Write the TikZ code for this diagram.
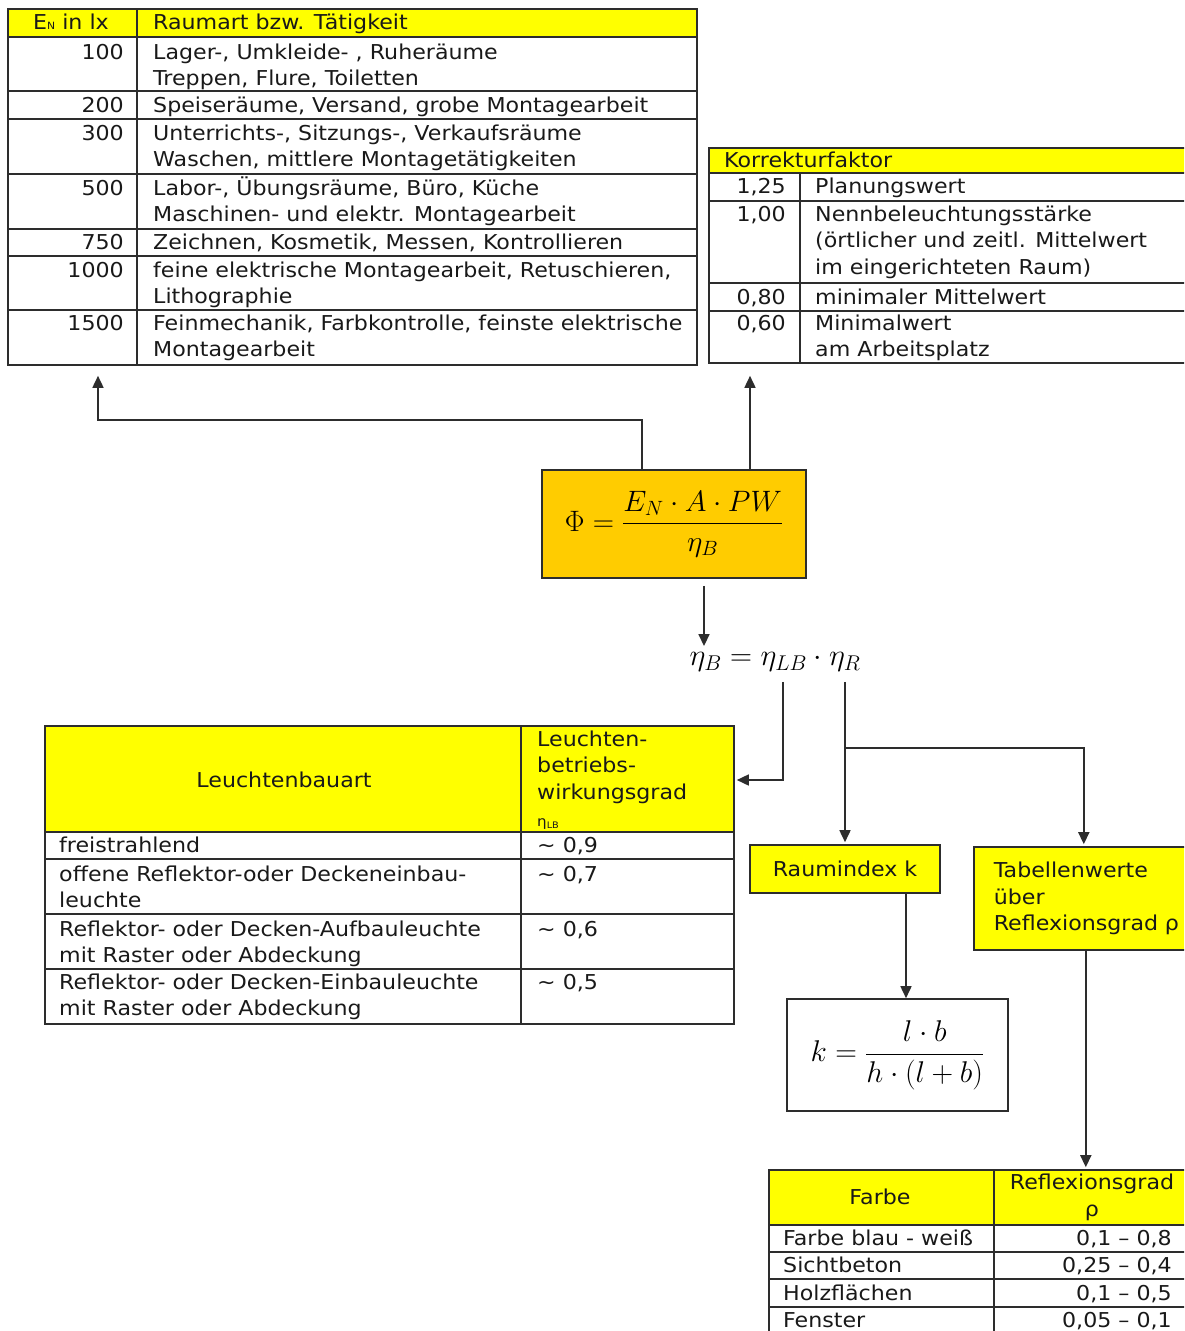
\RequirePackage{fix-cm}
\documentclass[tikz,border=0pt]{standalone}
\usepackage{fontspec}
\setmainfont{DejaVu Sans}[FakeStretch=1.08]
\usepackage{amsmath}
\usetikzlibrary{arrows.meta,positioning,calc}
\definecolor{hdryellow}{RGB}{255,255,0}
\definecolor{boxgold}  {RGB}{255,204,0}
\definecolor{linegray} {RGB}{45,45,45}
\definecolor{txtgray}  {RGB}{25,25,25}
\newcommand{\tabfont}{\fontsize{20.5}{26.6}\selectfont}
\newcommand{\mathfont}[1]{\fontsize{#1}{#1}\selectfont}
\tikzset{
  tabframe/.style={draw=linegray,line width=1.6pt,inner sep=0pt},
  rule/.style={draw=linegray,line width=1.6pt},
  hdr/.style={fill=hdryellow},
  cell/.style={anchor=base west,inner sep=0pt,font=\tabfont,
               align=left,text=txtgray},
  num/.style={cell,anchor=base east,align=right},
  ctr/.style={cell,anchor=base,align=center},
  ybox/.style={draw=linegray,fill=hdryellow,line width=1.6pt,
               font=\tabfont,text=txtgray},
  gbox/.style={draw=linegray,fill=boxgold,line width=1.6pt},
  wbox/.style={draw=linegray,fill=white,line width=1.6pt},
  arr/.style={-{Triangle[length=12pt,width=11pt]},line width=1.6pt,
              draw=linegray,shorten >=2pt},
}

\begin{document}
\begin{tikzpicture}[x=1pt,y=-1pt]
  \useasboundingbox (0,0) rectangle (1184,1331);
  \clip (0,0) rectangle (1184,1331);

  % Nennbeleuchtungsstaerken (base = last line)
  \fill[hdr] (8,9) rectangle (697,37);
  \node[tabframe,minimum width=689,minimum height=356] (tabE) at (352.5,187) {};
  \draw[rule] (137,9) -- (137,365);
  \draw[rule] (8,37) -- (697,37) (8,91) -- (697,91) (8,119) -- (697,119)
              (8,174) -- (697,174) (8,229) -- (697,229) (8,256) -- (697,256)
              (8,310) -- (697,310);
  \node[cell] (hEN)  at (33,29)  {E{\fontsize{10}{10}\selectfont N} in lx};
  \node[cell] (hRA)  at (153,29) {Raumart bzw. Tätigkeit};
  \node[num]  (e100) at (124,59)  {100};
  \node[cell] (r100) at (153,85.6)  {Lager-, Umkleide- , Ruheräume\\Treppen, Flure, Toiletten};
  \node[num]  (e200) at (124,112) {200};
  \node[cell] (r200) at (153,112) {Speiseräume, Versand, grobe Montagearbeit};
  \node[num]  (e300) at (124,140) {300};
  \node[cell] (r300) at (153,166.6) {Unterrichts-, Sitzungs-, Verkaufsräume\\Waschen, mittlere Montagetätigkeiten};
  \node[num]  (e500) at (124,195) {500};
  \node[cell] (r500) at (153,221.6) {Labor-, Übungsräume, Büro, Küche\\Maschinen- und elektr. Montagearbeit};
  \node[num]  (e750) at (124,249) {750};
  \node[cell] (r750) at (153,249) {Zeichnen, Kosmetik, Messen, Kontrollieren};
  \node[num]  (e1000) at (124,277) {1000};
  \node[cell] (r1000) at (153,303.6) {feine elektrische Montagearbeit, Retuschieren,\\Lithographie};
  \node[num]  (e1500) at (124,330) {1500};
  \node[cell] (r1500) at (153,356.6) {Feinmechanik, Farbkontrolle, feinste elektrische\\Montagearbeit};

  % Korrekturfaktor
  \fill[hdr] (709,148) rectangle (1200,173);
  \node[tabframe,minimum width=491,minimum height=215] (tabK) at (954.5,255.5) {};
  \draw[rule] (800,173) -- (800,363);
  \draw[rule] (709,173) -- (1200,173) (709,201) -- (1200,201)
              (709,283) -- (1200,283) (709,311) -- (1200,311);
  \node[cell] (hKF)  at (724,167) {Korrekturfaktor};
  \node[num]  (k125) at (786,193) {1,25};
  \node[cell] (p125) at (815,193) {Planungswert};
  \node[num]  (k100) at (786,221) {1,00};
  \node[cell] (p100) at (815,274.2) {Nennbeleuchtungsstärke\\(örtlicher und zeitl. Mittelwert\\im eingerichteten Raum)};
  \node[num]  (k080) at (786,304) {0,80};
  \node[cell] (p080) at (815,304) {minimaler Mittelwert};
  \node[num]  (k060) at (786,330) {0,60};
  \node[cell] (p060) at (815,356.6) {Minimalwert\\am Arbeitsplatz};

  % Lichtstrom
  \node[gbox,minimum width=264,minimum height=108,font=\mathfont{29.5}] (phi) at (674,524)
       {$\Phi=\dfrac{E_N\cdot A\cdot PW}{\eta_B}$};
  \node[font=\mathfont{30.5},inner sep=0pt] (etaB) at (775,662)
       {$\eta_B=\eta_{LB}\cdot\eta_R$};

  % Leuchtenbetriebswirkungsgrad
  \fill[hdr] (45,726) rectangle (734,832);
  \node[tabframe,minimum width=689,minimum height=298] (tabL) at (389.5,875) {};
  \draw[rule] (521,726) -- (521,1024);
  \draw[rule] (45,832) -- (734,832) (45,859) -- (734,859)
              (45,914) -- (734,914) (45,969) -- (734,969);
  \node[ctr]  (hLB) at (284,787) {Leuchtenbauart};
  \node[cell] (hLW) at (537,826) {Leuchten-\\betriebs-\\wirkungsgrad\\{\fontsize{14}{14}\selectfont η\raisebox{-2pt}{\fontsize{9}{9}\selectfont LB}}};
  \node[cell] (l1) at (59,852) {freistrahlend};
  \node[cell] (w1) at (537,852) {∼ 0,9};
  \node[cell] (l2) at (59,907.6) {offene Reflektor-oder Deckeneinbau-\\leuchte};
  \node[cell] (w2) at (537,881) {∼ 0,7};
  \node[cell] (l3) at (59,962.6) {Reflektor- oder Decken-Aufbauleuchte\\mit Raster oder Abdeckung};
  \node[cell] (w3) at (537,936) {∼ 0,6};
  \node[cell] (l4) at (59,1015.6) {Reflektor- oder Decken-Einbauleuchte\\mit Raster oder Abdeckung};
  \node[cell] (w4) at (537,989) {∼ 0,5};

  % Raumwirkungsgrad
  \node[ybox,minimum width=190,minimum height=48] (rind) at (845,869) {Raumindex k};
  \node[wbox,minimum width=221,minimum height=112,font=\mathfont{30}] (kbox) at (897.5,1055)
       {$k=\dfrac{l\cdot b}{h\cdot(l+b)}$};
  \node[ybox,anchor=west,minimum height=103,text width=205,
        inner xsep=20pt,align=left] (tabW) at (973,898.5)
       {Tabellenwerte\\über\\Reflexionsgrad ρ};

  % Reflexionsgrade
  \fill[hdr] (769,1170) rectangle (1200,1225);
  \node[tabframe,minimum width=431,minimum height=175] (tabR) at (984.5,1257.5) {};
  \draw[rule] (994,1170) -- (994,1345);
  \draw[rule] (769,1225) -- (1200,1225) (769,1252) -- (1200,1252)
              (769,1279) -- (1200,1279) (769,1307) -- (1200,1307);
  \node[ctr]  (hFa) at (880,1204) {Farbe};
  \node[ctr]  (hRg) at (1092,1216) {Reflexionsgrad\\ρ};
  \node[cell] (f1) at (783,1245) {Farbe blau - weiß};
  \node[num]  (g1) at (1172,1245) {0,1 – 0,8};
  \node[cell] (f2) at (783,1272) {Sichtbeton};
  \node[num]  (g2) at (1172,1272) {0,25 – 0,4};
  \node[cell] (f3) at (783,1300) {Holzflächen};
  \node[num]  (g3) at (1172,1300) {0,1 – 0,5};
  \node[cell] (f4) at (783,1327) {Fenster};
  \node[num]  (g4) at (1172,1327) {0,05 – 0,1};

  % Verbindungen
  \coordinate (fork) at (845,748);
  \draw[arr,shorten >=10pt] ([xshift=-32pt]phi.north) -- ++(0,-49)
       -| ([xshift=-254.5pt]tabE.south);
  \draw[arr,shorten >=12pt] ([xshift=76pt]phi.north)
       -- ([xshift=76pt]phi.north |- tabK.south);
  \draw[arr,shorten <=7pt,shorten >=6pt] ([xshift=30pt]phi.south)
       -- ([xshift=30pt]phi.south |- etaB.north);
  \draw[arr,shorten <=10pt] ([xshift=8pt]etaB.south)
       |- ([yshift=95pt]tabL.east);
  \draw[arr,shorten <=10pt] ([xshift=70pt]etaB.south) -- (rind.north);
  \draw[arr] (fork) -| ([xshift=-12.5pt]tabW.north);
  \draw[arr,shorten >=0pt] ([xshift=61pt]rind.south)
       -- ([xshift=61pt]rind.south |- kbox.north);
  \draw[arr] ([xshift=-10.5pt]tabW.south) -- ([xshift=-10.5pt]tabW.south |- tabR.north);
\end{tikzpicture}
\end{document}
